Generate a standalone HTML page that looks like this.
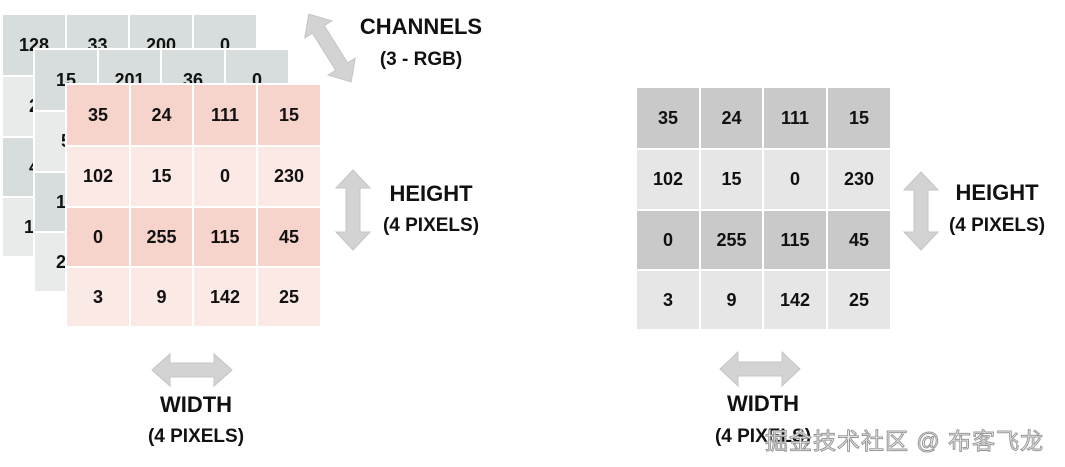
<!DOCTYPE html>
<html><head><meta charset="utf-8"><style>
body{margin:0;width:1065px;height:467px;background:#fff;position:relative;overflow:hidden;font-family:"Liberation Sans","Noto Sans CJK SC",sans-serif;font-weight:bold;color:#111}
.c{position:absolute;display:flex;align-items:center;justify-content:center;font-size:18px}
.bg{position:absolute;background:#fff}
.t{position:absolute;text-align:center;font-size:22px;transform:translateX(-50%);white-space:nowrap;line-height:1}
.s{font-size:19px}
</style></head><body>
<div id="g"></div>
<svg width="1065" height="467" style="position:absolute;left:0;top:0" >
<polygon points="353,170 370,188 360,188 360,232 370,232 353,250 336,232 346,232 346,188 336,188" fill="#d3d3d3" stroke="#c4c4c4"/>
<polygon points="921,172 938,190 928,190 928,232 938,232 921,250 904,232 914,232 914,190 904,190" fill="#d3d3d3" stroke="#c4c4c4"/>
<polygon points="152,370 170,354 170,363 214,363 214,354 232,370 214,386 214,377 170,377 170,386" fill="#d3d3d3" stroke="#c4c4c4"/>
<polygon points="720,369 738,352 738,362 782,362 782,352 800,369 782,386 782,376 738,376 738,386" fill="#d3d3d3" stroke="#c4c4c4"/>
<g transform="translate(330,48) rotate(58)">
<polygon points="-40,0 -22,-16 -22,-7 22,-7 22,-16 40,0 22,16 22,7 -22,7 -22,16" fill="#d3d3d3" stroke="#c4c4c4"/>
</g>
</svg>
<div class="t" style="left:421px;top:16px">CHANNELS</div>
<div class="t s" style="left:421px;top:50px">(3 - RGB)</div>
<div class="t" style="left:431px;top:183px">HEIGHT</div>
<div class="t s" style="left:431px;top:216px">(4 PIXELS)</div>
<div class="t" style="left:997px;top:182px">HEIGHT</div>
<div class="t s" style="left:997px;top:216px">(4 PIXELS)</div>
<div class="t" style="left:196px;top:394px">WIDTH</div>
<div class="t s" style="left:196px;top:427px">(4 PIXELS)</div>
<div class="t" style="left:763px;top:393px">WIDTH</div>
<div class="t s" style="left:763px;top:427px">(4 PIXELS)</div>
<div style="position:absolute;left:765px;top:422px;font-size:23px;letter-spacing:1px;font-weight:normal;color:#f4f4f4;-webkit-text-stroke:1px #999;white-space:nowrap">掘金技术社区 @ 布客飞龙</div>
<script>
const g=document.getElementById('g');
function grid(x0,y0,vals,cols,bg){
 if(bg){const b=document.createElement('div');b.className='bg';b.style.left=(x0-2)+'px';b.style.top=(y0-2)+'px';b.style.width='257px';b.style.height='245px';g.appendChild(b);}
 const xs=[0,64,127,191],ws=[62,61,62,62],ys=[0,62,123,183],hs=[60,59,58,58];
 for(let r=0;r<4;r++)for(let c=0;c<4;c++){
  const d=document.createElement('div');d.className='c';
  d.style.left=(x0+xs[c])+'px';d.style.top=(y0+ys[r])+'px';d.style.width=ws[c]+'px';d.style.height=hs[r]+'px';
  d.style.background=cols[r%2];d.textContent=vals[r*4+c];
  g.appendChild(d);
 }
}
grid(3,15,['128','33','200','0','2','','','','4','','','','12','','',''],['#d6dddc','#e9eaea'],false);
grid(35,50,['15','201','36','0','5','','','','12','','','','24','','',''],['#d6dddc','#e9eaea'],true);
const v=['35','24','111','15','102','15','0','230','0','255','115','45','3','9','142','25'];
grid(67,85,v,['#f7d4cb','#fbe9e5'],true);
grid(637,88,v,['#c9c9c9','#e6e6e6'],false);
</script>
</body></html>
